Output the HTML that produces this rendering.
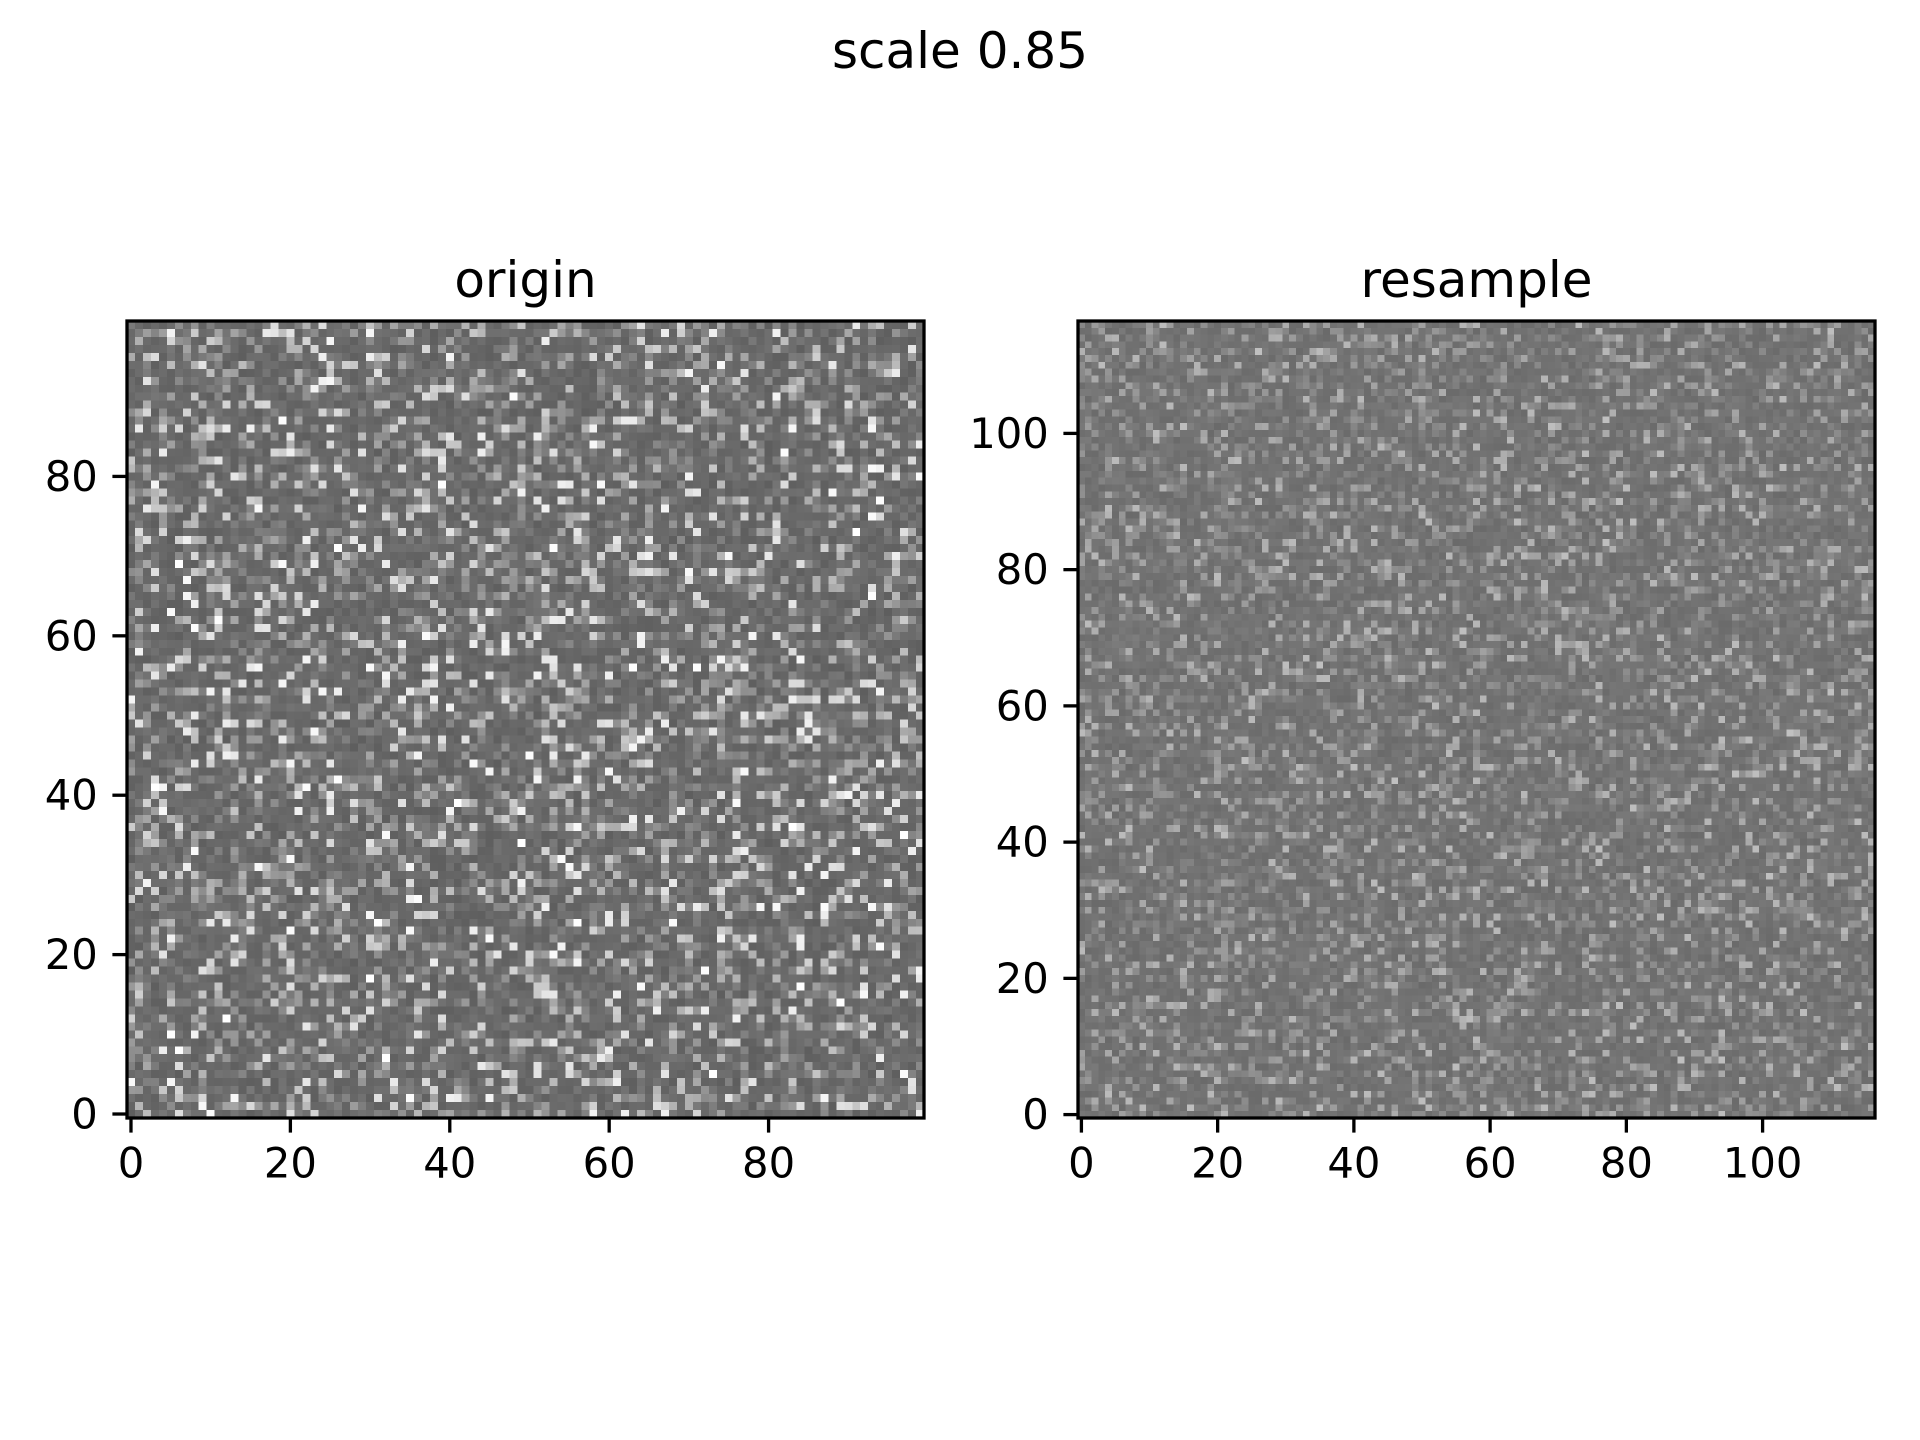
<!DOCTYPE html>
<html><head><meta charset="utf-8"><style>
html,body{margin:0;padding:0;background:#fff;}
#wrap{position:relative;width:1920px;height:1440px;}
canvas{position:absolute;image-rendering:pixelated;}
svg{position:absolute;left:0;top:0;}
text{font-family:"DejaVu Sans","Liberation Sans",sans-serif;fill:#000;}
</style></head><body>
<div id="wrap">
<canvas id="c1" width="100" height="100" style="left:127px;top:321px;width:797px;height:797px"></canvas>
<canvas id="c2" width="117" height="117" style="left:1078px;top:321px;width:797px;height:797px"></canvas>
<svg id="s" width="1920" height="1440">
<text x="960" y="51" font-size="50" text-anchor="middle" dominant-baseline="central">scale 0.85</text>
<text x="525.5" y="280" font-size="50" text-anchor="middle" dominant-baseline="central">origin</text>
<text x="1476.5" y="280" font-size="50" text-anchor="middle" dominant-baseline="central">resample</text>
</svg>
</div>
<script>
const originSize = 100;
const resampleSize = 117;
const originTicks = [0, 20, 40, 60, 80];
const resampleTicks = [0, 20, 40, 60, 80, 100];
// pixel values estimated (noise texture cannot be read cell by cell)
function lcg(seed){let s=seed;return()=>{s=(s*1664525+1013904223)%4294967296;return s/4294967296;};}
const rA = lcg(12345), rB = lcg(678);
const originValues = [];
for(let i=0;i<originSize*originSize;i++){const u=rA();originValues.push(Math.round(94+Math.pow(u,5)*150+rA()*16));}
const resampleValues = [];
for(let i=0;i<resampleSize*resampleSize;i++){const u=rB();resampleValues.push(Math.round(106+Math.pow(u,5)*75+rB()*12));}

function drawHeat(id,n,vals){
  const ctx=document.getElementById(id).getContext('2d');
  for(let r=0;r<n;r++)for(let c=0;c<n;c++){
    const v=Math.min(255,vals[r*n+c]);
    ctx.fillStyle=`rgb(${v},${v},${v})`;
    ctx.fillRect(c,n-1-r,1,1);
  }
}
drawHeat('c1',originSize,originValues);
drawHeat('c2',resampleSize,resampleValues);

const svg=document.getElementById('s');
const NS='http://www.w3.org/2000/svg';
function el(tag,attrs){const e=document.createElementNS(NS,tag);for(const k in attrs)e.setAttribute(k,attrs[k]);svg.appendChild(e);return e;}
function axes(x0,n,ticks,prefix){
  const y0=321,w=797,h=797;
  const sx=v=>x0+(v+0.5)/n*w;
  const sy=v=>y0+h-(v+0.5)/n*h;
  const fr=el('rect',{x:x0,y:y0,width:w,height:h,fill:'none',stroke:'#000','stroke-width':3.3});
  
  
  ticks.forEach(t=>{
    const xl=el('line',{x1:sx(t),x2:sx(t),y1:y0+h,y2:y0+h+14.6,stroke:'#000','stroke-width':3.3});
    
    
    const xt=el('text',{x:sx(t),y:y0+h+14.6+14.6+16,'font-size':41.7,'text-anchor':'middle','dominant-baseline':'central'});
    xt.textContent=t;
    
    
    const yl=el('line',{x1:x0-14.6,x2:x0,y1:sy(t),y2:sy(t),stroke:'#000','stroke-width':3.3});
    
    
    const yt=el('text',{x:x0-14.6-14.6,y:sy(t),'font-size':41.7,'text-anchor':'end','dominant-baseline':'central'});
    yt.textContent=t;
    
    
  });
}
axes(127,originSize,originTicks,'origin');
axes(1078,resampleSize,resampleTicks,'resample');
</script>
</body></html>
